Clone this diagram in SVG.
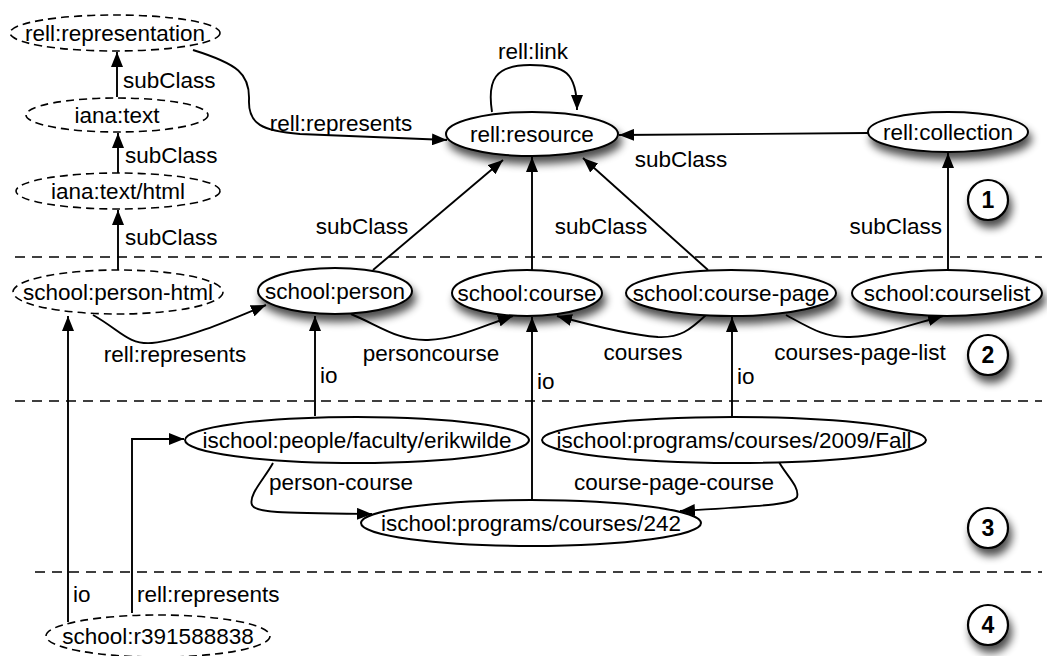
<svg xmlns="http://www.w3.org/2000/svg" width="1047" height="656" viewBox="0 0 1047 656">
<style>
text{font-family:"Liberation Sans",Arial,sans-serif;font-size:22.5px;fill:#000}
.n{text-anchor:middle}
.el{fill:#fff;stroke:#000;stroke-width:2}
.dash{fill:#fff;stroke:#000;stroke-width:1.6;stroke-dasharray:8 5}
.sep{stroke:#000;stroke-width:1.6;stroke-dasharray:10 7;fill:none}
.e{fill:none;stroke:#000;stroke-width:1.9;marker-end:url(#ah)}
.c{fill:#fff;stroke:#000;stroke-width:2.2}
.num{font-weight:bold;font-size:23px;text-anchor:middle}
</style>
<defs>
<marker id="ah" markerUnits="userSpaceOnUse" markerWidth="16" markerHeight="12" refX="15" refY="6" orient="auto" viewBox="0 0 16 12">
<path d="M0,0 L15,6 L0,12 z" fill="#000"/>
</marker>
<filter id="sh" x="-30%" y="-40%" width="160%" height="210%">
<feGaussianBlur in="SourceAlpha" stdDeviation="4"/>
<feOffset dx="3" dy="7" result="b"/>
<feComponentTransfer><feFuncA type="linear" slope="0.7"/></feComponentTransfer>
<feMerge><feMergeNode/><feMergeNode in="SourceGraphic"/></feMerge>
</filter>
</defs>
<g id="separators">
<line class="sep" x1="15" y1="257" x2="1042" y2="257"/>
<line class="sep" x1="15" y1="401" x2="1042" y2="401"/>
<line class="sep" x1="35" y1="572" x2="1042" y2="572"/>
</g>
<g id="connectors">
<path class="e" d="M193,50 C238,64 250,74 249,100 C248,124 262,131 300,134 L447,140"/>
<path class="e" d="M492,112 C487,80 495,65 530,65 C565,65 577,72 577,110"/>
<path class="e" d="M868,133 L619,135"/>
<path class="e" d="M373,270 L503,160"/>
<path class="e" d="M532,270 L532,157"/>
<path class="e" d="M708,270 L583,158"/>
<path class="e" d="M948,270 L948,153"/>
<path class="e" d="M117,97 L117,52"/>
<path class="e" d="M118,173 L118,133"/>
<path class="e" d="M118,270 L118,210"/>
<path class="e" d="M93,315 C120,330 128,345 152,343 C185,340 235,318 266,305"/>
<path class="e" d="M351,314 C380,326 398,341 428,340 C458,339 485,325 513,316"/>
<path class="e" d="M706,315 C690,330 680,338 658,337 C630,335 590,325 557,316"/>
<path class="e" d="M786,315 C810,328 825,338 850,337 C880,336 910,325 943,316"/>
<path class="e" d="M315,416 L315,316"/>
<path class="e" d="M532,500 L532,317"/>
<path class="e" d="M732,416 L732,317"/>
<path class="e" d="M68,622 L68,316"/>
<path class="e" d="M132,613 L132,439 L184,439"/>
<path class="e" d="M273,463 C265,478 248,495 252,505 C256,513 280,513 372,514"/>
<path class="e" d="M779,462 C786,475 800,487 797,497 C793,505 760,506 680,511"/>
</g>
<g id="edge-labels">
<text x="341" y="131" class="n">rell:represents</text>
<text x="533" y="59" class="n">rell:link</text>
<text x="681" y="167" class="n">subClass</text>
<text x="362" y="234" class="n">subClass</text>
<text x="601" y="234" class="n">subClass</text>
<text x="942" y="234" text-anchor="end">subClass</text>
<text x="123" y="88">subClass</text>
<text x="125" y="163">subClass</text>
<text x="125" y="245">subClass</text>
<text x="175" y="362" class="n">rell:represents</text>
<text x="431" y="361" class="n">personcourse</text>
<text x="643" y="360" class="n">courses</text>
<text x="860" y="360" class="n">courses-page-list</text>
<text x="320" y="383">io</text>
<text x="537" y="389">io</text>
<text x="737" y="384">io</text>
<text x="73" y="602">io</text>
<text x="137" y="602">rell:represents</text>
<text x="341" y="490" class="n">person-course</text>
<text x="674" y="490" class="n">course-page-course</text>
</g>
<g id="rell-representation"><ellipse class="dash" cx="115" cy="33" rx="105" ry="18"/><text x="115" y="41" class="n">rell:representation</text></g>
<g id="iana-text"><ellipse class="dash" cx="117" cy="115" rx="91" ry="17"/><text x="117" y="123" class="n">iana:text</text></g>
<g id="iana-text-html"><ellipse class="dash" cx="118" cy="191" rx="102" ry="18"/><text x="118" y="199" class="n">iana:text/html</text></g>
<g id="school-person-html"><ellipse class="dash" cx="118" cy="292" rx="105" ry="22"/><text x="118" y="300" class="n">school:person-html</text></g>
<g id="rell-resource"><ellipse class="el" filter="url(#sh)" cx="532" cy="134" rx="86" ry="22"/><text x="532" y="142" class="n">rell:resource</text></g>
<g id="rell-collection"><ellipse class="el" filter="url(#sh)" cx="948" cy="132" rx="80" ry="20"/><text x="948" y="140" class="n">rell:collection</text></g>
<g id="school-person"><ellipse class="el" filter="url(#sh)" cx="335" cy="291" rx="77" ry="23"/><text x="335" y="299" class="n">school:person</text></g>
<g id="school-course"><ellipse class="el" filter="url(#sh)" cx="527" cy="293" rx="75" ry="23"/><text x="527" y="301" class="n">school:course</text></g>
<g id="school-course-page"><ellipse class="el" filter="url(#sh)" cx="731" cy="293" rx="105" ry="23"/><text x="731" y="301" class="n">school:course-page</text></g>
<g id="school-courselist"><ellipse class="el" filter="url(#sh)" cx="947" cy="293" rx="95" ry="23"/><text x="947" y="301" class="n">school:courselist</text></g>
<g id="erikwilde"><ellipse class="el" cx="357" cy="440" rx="172" ry="23"/><text x="357" y="448" class="n">ischool:people/faculty/erikwilde</text></g>
<g id="fall2009"><ellipse class="el" cx="734" cy="440" rx="192" ry="23"/><text x="734" y="448" class="n">ischool:programs/courses/2009/Fall</text></g>
<g id="course242"><ellipse class="el" cx="531" cy="523" rx="170" ry="23"/><text x="531" y="531" class="n">ischool:programs/courses/242</text></g>
<g id="school-r391588838"><ellipse class="dash" cx="158" cy="636" rx="112" ry="21"/><text x="158" y="644" class="n">school:r391588838</text></g>
<g id="marker-1"><circle class="c" filter="url(#sh)" cx="988" cy="200" r="20"/><text x="988" y="208" class="num">1</text></g>
<g id="marker-2"><circle class="c" filter="url(#sh)" cx="988" cy="355" r="20"/><text x="988" y="363" class="num">2</text></g>
<g id="marker-3"><circle class="c" filter="url(#sh)" cx="988" cy="528" r="20"/><text x="988" y="536" class="num">3</text></g>
<g id="marker-4"><circle class="c" filter="url(#sh)" cx="988" cy="625" r="20"/><text x="988" y="633" class="num">4</text></g>
</svg>
